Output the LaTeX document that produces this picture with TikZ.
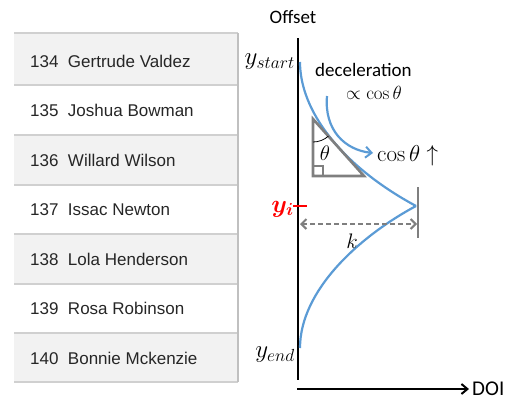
\documentclass[tikz,border=0pt]{standalone}
\usepackage{fix-cm}
\usepackage{amsmath}
\usepackage{bm}
\usepackage[no-math]{fontspec}
\setmainfont{Liberation Sans}
\newfontfamily\calfont{Carlito}
\usetikzlibrary{arrows.meta}
\definecolor{rowgray}{HTML}{F2F2F2}
\definecolor{linegray}{HTML}{D0D0D0}
\definecolor{curveblue}{HTML}{5B9BD5}
\definecolor{darkgray}{HTML}{7F7F7F}
\definecolor{redlabel}{HTML}{FF0000}
\tikzset{
  rowtext/.style={anchor=west, inner sep=0pt, font=\fontsize{17}{19}\selectfont, text=black!85},
  axisline/.style={line width=2.3pt, black},
  curve/.style={line width=2.2pt, curveblue},
  grayline/.style={line width=2.6pt, darkgray},
  calib/.style={inner sep=0pt, font=\calfont\fontsize{19}{21}\selectfont},
  mathlbl/.style={inner sep=0pt, font=\fontsize{21}{23}\selectfont},
  ylbl/.style={inner sep=0pt, anchor=east, font=\fontsize{25}{27}\selectfont}
}
\begin{document}
\begin{tikzpicture}[x=1pt, y=-1pt]
\useasboundingbox (0,0) rectangle (516,402);
% table rows
\foreach \i/\yt/\yb in {0/33/85, 2/135/185, 4/234/284, 6/333/382} {
  \fill[rowgray] (14,\yt) rectangle (238,\yb);
}
\foreach \yy in {33,85,135,185,234,284,333,382} {
  \draw[linegray, line width=1.2pt] (14,\yy) -- (238,\yy);
}
\draw[linegray!80!gray, line width=1.2pt] (238,33) -- (238,382);
\node[rowtext] (r134) at (30,61) {134\ \ Gertrude Valdez};
\node[rowtext] (r135) at (30,110) {135\ \ Joshua Bowman};
\node[rowtext] (r136) at (30,160) {136\ \ Willard Wilson};
\node[rowtext] (r137) at (30,210) {137\ \ Issac Newton};
\node[rowtext] (r138) at (30,259) {138\ \ Lola Henderson};
\node[rowtext] (r139) at (30,308) {139\ \ Rosa Robinson};
\node[rowtext] (r140) at (30,358) {140\ \ Bonnie Mckenzie};
% axes
\coordinate (ytop) at (298,38);
\coordinate (ybot) at (298,380);
\coordinate (xs) at (297,389);
\coordinate (xe) at (469,389);
\draw[axisline] (ytop) -- (ybot);
\draw[axisline, -{Straight Barb[length=6pt,width=10pt,line width=2pt]}] (xs) -- (xe);
\node[calib, anchor=west, font=\calfont\fontsize{21}{23}\selectfont] (doi) at (472,389) {DOI};
\node[calib, anchor=center] (offset) at (293,17) {Offset};
% labels
\node[ylbl] (ystart) at (295,62) {$y_{start}$};
\node[ylbl] (yend) at (295,355) {$y_{end}$};
\node[ylbl, text=redlabel] (yi) at (294,209) {$\bm{y_i}$};
\draw[redlabel, line width=2pt] (293,206) -- (307,206);
% curve
\coordinate (cs) at (300,62);
\coordinate (cp) at (416,206);
\coordinate (ce) at (300,348);
\draw[curve] (cs) .. controls (300,110) and (340,165) .. (cp);
\draw[curve] (cp) .. controls (360,236) and (300,290) .. (ce);
% gray tick and k arrow
\coordinate (gt) at (418,187);
\coordinate (gb) at (418,238);
\draw[grayline] (gt) -- (gb);
\coordinate (ka) at (300,224);
\coordinate (kb) at (417,224);
\draw[darkgray, line width=2.2pt, dash pattern=on 5pt off 3pt,
  {Straight Barb[length=5pt,width=10pt,line width=2pt]}-{Straight Barb[length=5pt,width=10pt,line width=2pt]}] (ka) -- (kb);
\node[mathlbl] (k) at (352,241) {$k$};
% triangle
\coordinate (ta) at (313,119);
\coordinate (tb) at (313,176);
\coordinate (tc) at (364,176);
\draw[grayline, line join=miter] (ta) -- (tb) -- (tc) -- cycle;
\draw[darkgray, line width=1.2pt] (313,166) -- (323,166) -- (323,176);
\draw[black, line width=0.8pt] (313,142) arc[start angle=90, end angle=48, radius=23];
\node[mathlbl] (theta) at (325,153) {$\theta$};
% deceleration
\node[calib, anchor=west] (dec) at (315,70) {deceleration};
\node[mathlbl, anchor=west, font=\fontsize{19}{21}\selectfont] (prop) at (346,93) {$\propto\cos\theta$};
\coordinate (as) at (327,96);
\coordinate (ae) at (373,153);
\draw[curve, -{Straight Barb[length=6pt,width=11pt,line width=2pt]}] (as) .. controls (324,130) and (345,150) .. (ae);
\node[mathlbl, anchor=west, font=\fontsize{23}{25}\selectfont] (cosup) at (377,156) {$\cos\theta\uparrow$};
\end{tikzpicture}
\end{document}
